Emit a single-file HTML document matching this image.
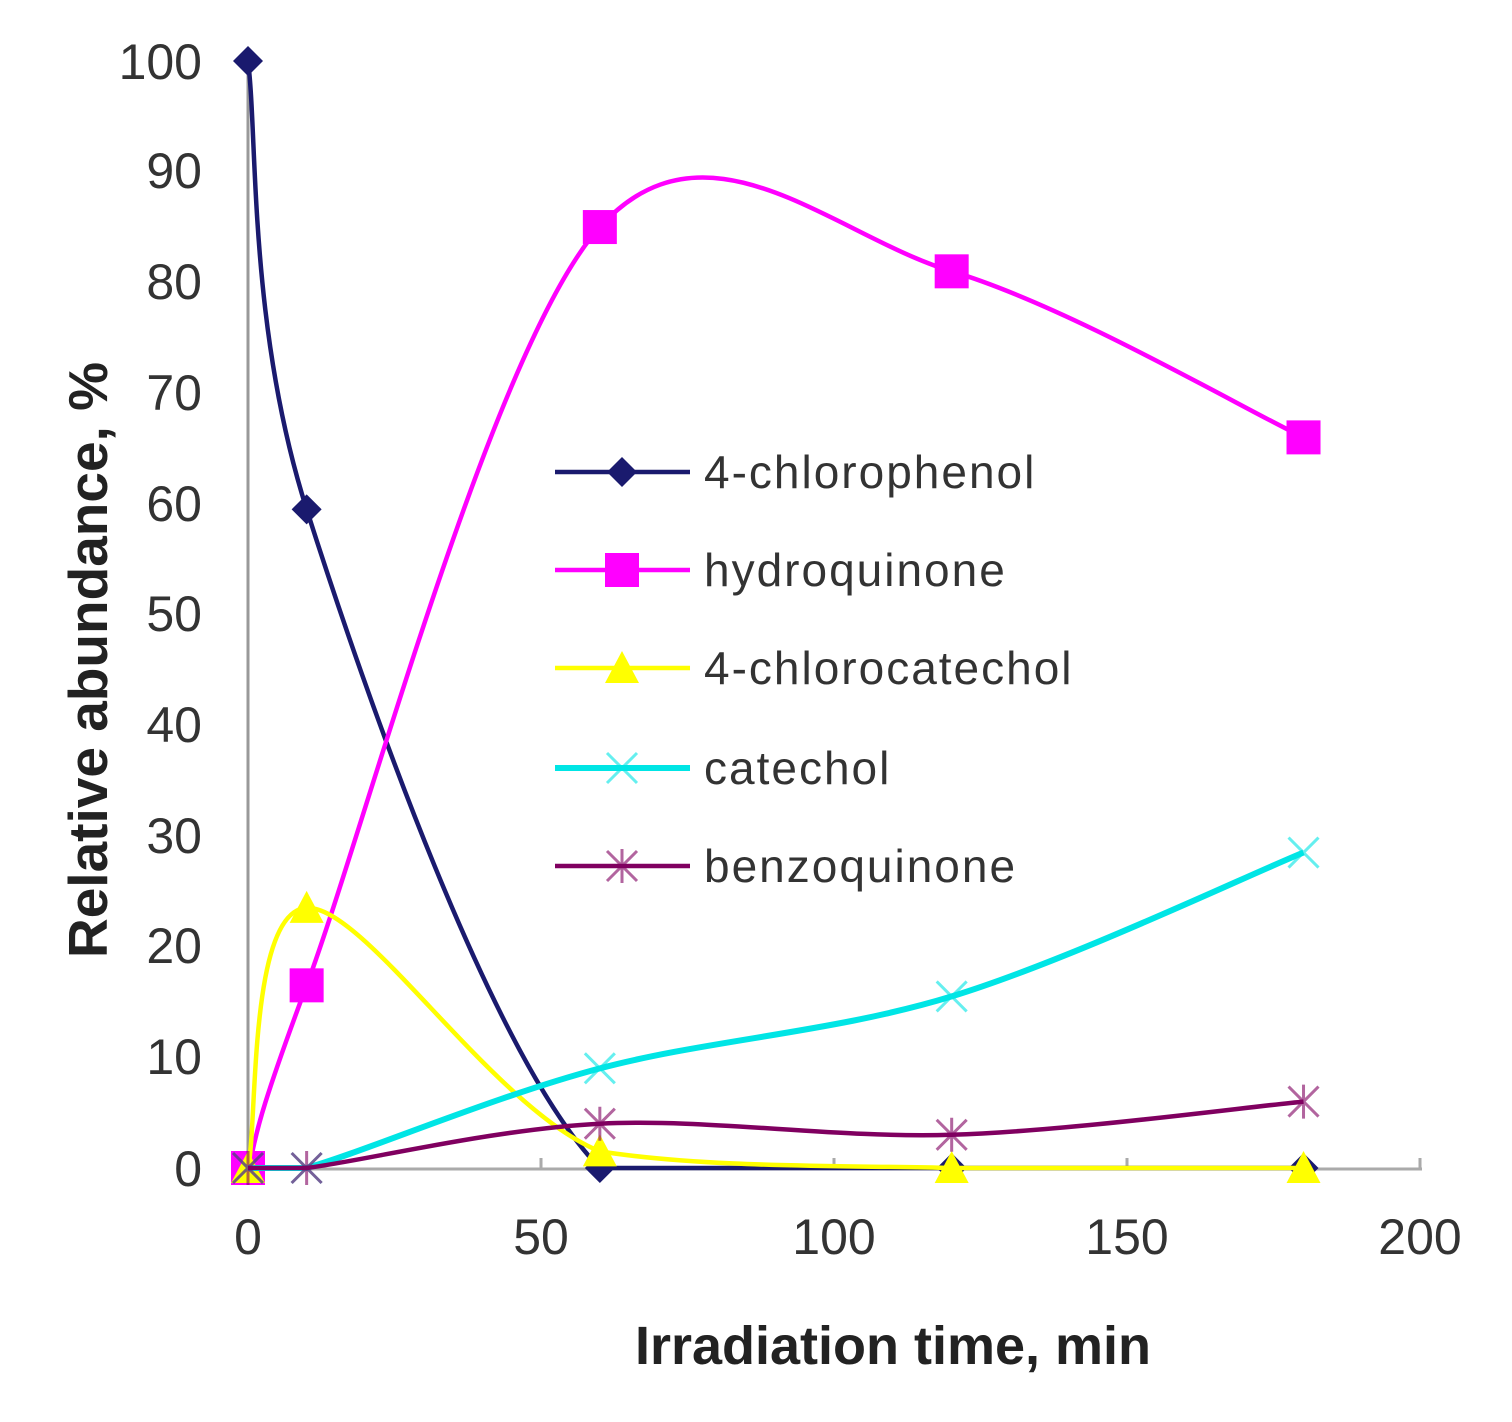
<!DOCTYPE html>
<html><head><meta charset="utf-8"><style>
body{margin:0;background:#fff;}
svg{display:block;font-family:"Liberation Sans",sans-serif;}
</style></head><body>
<svg id="s" width="1512" height="1422" viewBox="0 0 1512 1422">
<line x1="248" y1="61" x2="248" y2="1169" stroke="#999" stroke-width="3"/>
<line x1="248" y1="1169" x2="1422" y2="1169" stroke="#aaa" stroke-width="3"/>
<g stroke="#aaa" stroke-width="3">
<line x1="541" y1="1169" x2="541" y2="1158"/><line x1="834" y1="1169" x2="834" y2="1158"/>
<line x1="1127" y1="1169" x2="1127" y2="1158"/><line x1="1420" y1="1169" x2="1420" y2="1158"/>
</g>
<g font-size="50" fill="#333" text-anchor="end">
<text x="202" y="79">100</text><text x="202" y="188">90</text><text x="202" y="299">80</text>
<text x="202" y="410">70</text><text x="202" y="521">60</text><text x="202" y="631">50</text>
<text x="202" y="742">40</text><text x="202" y="853">30</text><text x="202" y="963">20</text>
<text x="202" y="1074">10</text><text x="202" y="1186">0</text>
</g>
<g font-size="50" fill="#333" text-anchor="middle">
<text x="248" y="1254">0</text><text x="541" y="1254">50</text><text x="834" y="1254">100</text>
<text x="1127" y="1254">150</text><text x="1420" y="1254">200</text>
</g>
<text x="893" y="1364" font-size="54" font-weight="bold" fill="#222" text-anchor="middle">Irradiation time, min</text>
<text transform="translate(107,660) rotate(-90)" font-size="55" font-weight="bold" fill="#222" text-anchor="middle">Relative abundance, %</text>
<g id="plot"></g>
<g font-size="46" fill="#333" letter-spacing="2">
<text x="704" y="488">4-chlorophenol</text><text x="704" y="586">hydroquinone</text>
<text x="704" y="684">4-chlorocatechol</text><text x="704" y="784">catechol</text>
<text x="704" y="882">benzoquinone</text>
</g>
<g id="leg"></g>
</svg>
<script>
var X=[0,10,60,120,180];
function px(t){return 248+t*5.864;} function py(v){return 1168-v*11.07;}
var S=[
 {c:"#1a1a6e",m:"d",d:[100,59.5,0,0,0]},
 {c:"#ff00ff",m:"s",d:[0,16.5,85,81,66]},
 {c:"#ffff00",m:"t",d:[0,23.5,1.5,0,0]},
 {c:"#00e5e5",m:"x",d:[0,0,9,15.5,28.5]},
 {c:"#800060",m:"a",d:[0,0,4,3,6]}
];
var NS="http://www.w3.org/2000/svg";
function el(n,a,p){var e=document.createElementNS(NS,n);for(var k in a)e.setAttribute(k,a[k]);p.appendChild(e);return e;}
function marker(m,x,y,c,p){
 if(m=="d")el("polygon",{points:(x)+","+(y-15)+" "+(x+15)+","+y+" "+x+","+(y+15)+" "+(x-15)+","+y,fill:c},p);
 else if(m=="s")el("rect",{x:x-17,y:y-17,width:34,height:34,fill:c},p);
 else if(m=="t")el("polygon",{points:x+","+(y-17)+" "+(x+17)+","+(y+15)+" "+(x-17)+","+(y+15),fill:c},p);
 else if(m=="x"){el("path",{d:"M"+(x-15)+" "+(y-15)+"L"+(x+15)+" "+(y+15)+"M"+(x+15)+" "+(y-15)+"L"+(x-15)+" "+(y+15),stroke:c,"stroke-width":3,opacity:0.6},p);}
 else {el("path",{d:"M"+(x-15)+" "+(y-15)+"L"+(x+15)+" "+(y+15)+"M"+(x+15)+" "+(y-15)+"L"+(x-15)+" "+(y+15)+"M"+x+" "+(y-17)+"L"+x+" "+(y+17),stroke:c,"stroke-width":3,opacity:0.6},p);}
}
var g=document.getElementById("plot"),lg=document.getElementById("leg");
function cl(v){return Math.min(v,1168);}
S.forEach(function(s,i){
 var P=X.map(function(t,j){return [px(t),py(s.d[j])];});
 var d="M"+P[0][0]+" "+P[0][1];
 for(var j=0;j<P.length-1;j++){
  var p0=P[Math.max(j-1,0)],p1=P[j],p2=P[j+1],p3=P[Math.min(j+2,P.length-1)];
  var c1=[p1[0]+(p2[0]-p0[0])/6,cl(p1[1]+(p2[1]-p0[1])/6)],c2=[p2[0]-(p3[0]-p1[0])/6,cl(p2[1]-(p3[1]-p1[1])/6)];
  if(p1[1]==1168&&p2[1]==1168){c1[1]=1168;c2[1]=1168;}
  d+="C"+c1[0]+" "+c1[1]+" "+c2[0]+" "+c2[1]+" "+p2[0]+" "+p2[1];
 }
 el("path",{d:d,fill:"none",stroke:s.c,"stroke-width":s.m=="x"?6:4.5},g);
 P.forEach(function(p){marker(s.m,p[0],p[1],s.c,g);});
 var ly=[472,570,668,768,866][i];
 el("line",{x1:555,y1:ly,x2:690,y2:ly,stroke:s.c,"stroke-width":s.m=="x"?6:4.5},lg);
 marker(s.m,622,ly,s.c,lg);
});
</script>
</body></html>
